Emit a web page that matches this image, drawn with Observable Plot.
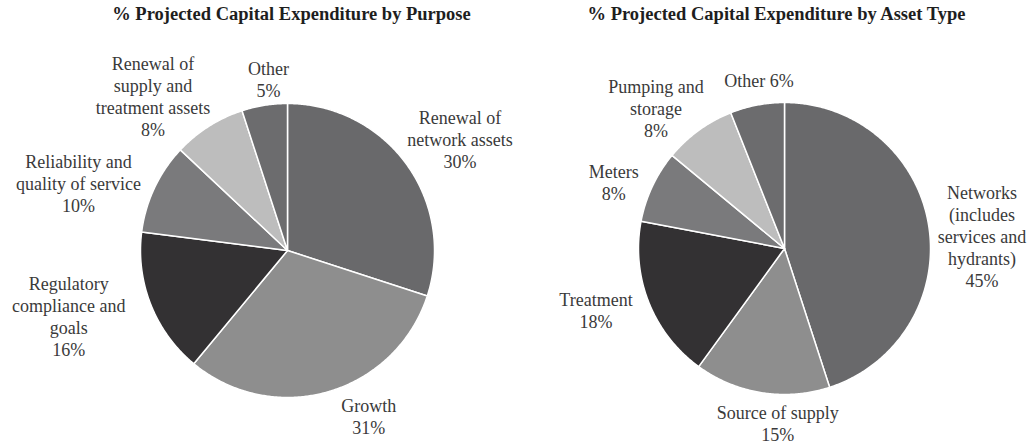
<!DOCTYPE html>
<html>
<head>
<meta charset="utf-8">
<script src="https://cdn.jsdelivr.net/npm/d3@7"></script>
<script src="https://cdn.jsdelivr.net/npm/@observablehq/plot@0.6"></script>
<style>
  html, body { margin: 0; padding: 0; background: #ffffff; }
  #chart svg { display: block; font-family: "Liberation Serif", "DejaVu Serif", serif; }
  #chart svg text { font-family: "Liberation Serif", "DejaVu Serif", serif; }
</style>
</head>
<body>
<div id="chart"></div>
<script>
// ---------- data ----------
const purposeTitle = "% Projected Capital Expenditure by Purpose";
const purposeNames = ["Renewal of\nnetwork assets", "Growth", "Regulatory\ncompliance and\ngoals", "Reliability and\nquality of service", "Renewal of\nsupply and\ntreatment assets", "Other"];
const purposeValues = [30, 31, 16, 10, 8, 5];
const purposeColors = ["#69696b", "#8e8e8e", "#333133", "#7a7a7c", "#bdbdbd", "#6c6c6e"];

const assetTitle = "% Projected Capital Expenditure by Asset Type";
const assetNames = ["Networks\n(includes\nservices and\nhydrants)", "Source of supply", "Treatment", "Meters", "Pumping and\nstorage", "Other"];
const assetValues = [45, 15, 18, 8, 8, 6];
const assetColors = ["#69696b", "#8e8e8e", "#333133", "#7a7a7c", "#bdbdbd", "#6c6c6e"];

// ---------- layout ----------
const W = 1036, H = 444;
const pies = [
  {title: purposeTitle, names: purposeNames, values: purposeValues, colors: purposeColors,
   cx: 287, cy: 250, r: 147, titleDx: 4,
   joins: ["\n", "\n", "\n", "\n", "\n", "\n"],
   nudges: [[18, 1], [28, -18], [-41, -5], [-36, 14], [-32, 7], [11, 17]]},
  {title: assetTitle, names: assetNames, values: assetValues, colors: assetColors,
   cx: 784, cy: 248, r: 146, titleDx: -8,
   joins: ["\n", "\n", "\n", "\n", "\n", " "],
   nudges: [[10, 17], [23, -13], [-12, -8], [1, 14], [-17, 13], [10, 18]]}
];

const wedgePts = [];
const labels = [];
const titles = [];
pies.forEach((p, pi) => {
  const arcs = d3.pie().sort(null).value(d => d)(p.values);
  arcs.forEach((a, i) => {
    const key = pi + "-" + i;
    const steps = Math.max(2, Math.ceil((a.endAngle - a.startAngle) / (Math.PI / 360)));
    wedgePts.push({key, x: p.cx, y: p.cy, fill: p.colors[i]});
    for (let s = 0; s <= steps; s++) {
      const t = a.startAngle + (a.endAngle - a.startAngle) * s / steps;
      wedgePts.push({key, x: p.cx + p.r * Math.sin(t), y: p.cy - p.r * Math.cos(t), fill: p.colors[i]});
    }
    wedgePts.push({key, x: p.cx, y: p.cy, fill: p.colors[i]});
    const mid = (a.startAngle + a.endAngle) / 2;
    const lr = p.r * 1.3;
    labels.push({
      x: p.cx + lr * Math.sin(mid) + p.nudges[i][0],
      y: p.cy - lr * Math.cos(mid) + p.nudges[i][1],
      text: p.names[i] + p.joins[i] + p.values[i] + "%"
    });
  });
  titles.push({x: p.cx + p.titleDx, text: p.title});
});

const chart = Plot.plot({
  width: W,
  height: H,
  margin: 0,
  x: {domain: [0, W], range: [0, W], axis: null},
  y: {domain: [0, H], range: [0, H], axis: null},
  style: {background: "#ffffff", fontFamily: "'Liberation Serif', serif"},
  marks: [
    Plot.line(wedgePts, {x: "x", y: "y", z: "key", fill: "fill", stroke: "#ffffff", strokeWidth: 1.5, curve: "linear", strokeLinejoin: "round"}),
    Plot.text(labels, {x: "x", y: "y", text: "text", fontSize: 18, lineHeight: 1.22, lineAnchor: "middle", textAnchor: "middle",
      fill: "#3a3a3a"}),
    Plot.text(titles, {x: "x", frameAnchor: "top", dy: 6, text: "text", fontSize: 18.5, fontWeight: "bold",
      textAnchor: "middle", lineAnchor: "top", fill: "#1e1e1e"})
  ]
});
document.getElementById("chart").appendChild(chart);
</script>
</body>
</html>
